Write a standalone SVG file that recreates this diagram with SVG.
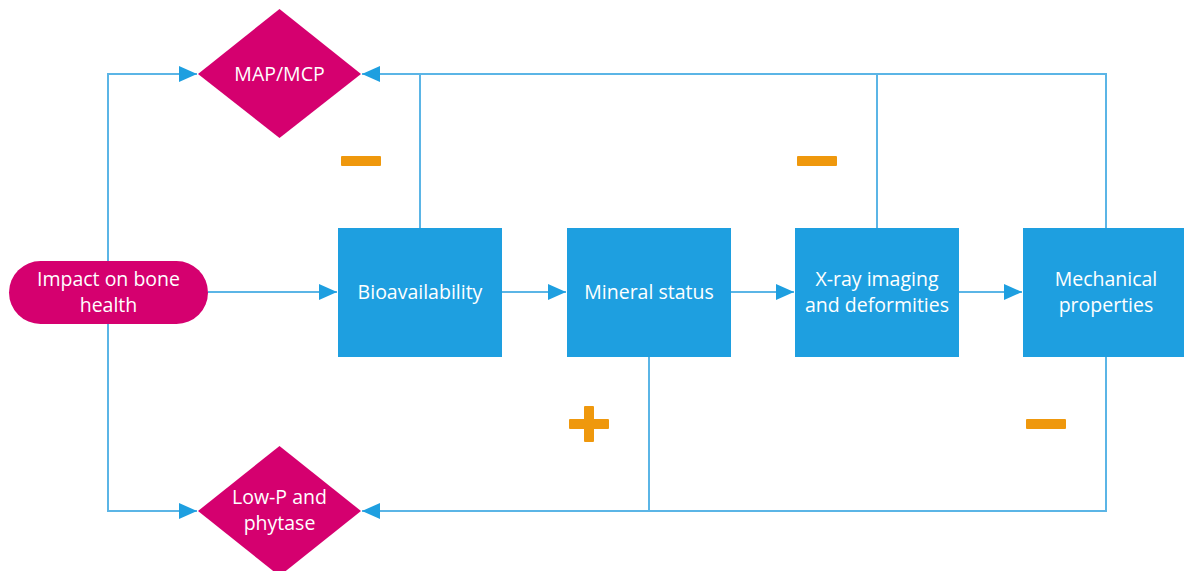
<svg xmlns="http://www.w3.org/2000/svg" width="1184" height="571" viewBox="0 0 1184 571">
<style>
.ln{fill:none;stroke:#5BB5E6;stroke-width:2}
.box{fill:#1E9FE0}
.mag{fill:#D5006F}
.t{font-family:"Open Sans","Noto Sans",sans-serif;font-size:19.5px;fill:#FFFFFF;text-anchor:middle}
.sign{fill:#EF980D}
</style>
<defs>
<marker id="ah" markerUnits="userSpaceOnUse" markerWidth="18" markerHeight="18" viewBox="0 0 18 18" refX="18" refY="9" orient="auto">
<path d="M0,1 L18,9 L0,17 Z" fill="#1E9FE0"/>
</marker>
</defs>
<rect width="1184" height="571" fill="#FFFFFF"/>
<g id="connectors">
<path class="ln" d="M108,262 V74 H197" marker-end="url(#ah)"/>
<path class="ln" d="M108,324 V511 H197" marker-end="url(#ah)"/>
<path class="ln" d="M1106,228 V74 H362" marker-end="url(#ah)"/>
<path class="ln" d="M420,228 V74"/>
<path class="ln" d="M877,228 V74"/>
<path class="ln" d="M1106,357 V511 H362" marker-end="url(#ah)"/>
<path class="ln" d="M649,357 V511"/>
<path class="ln" d="M208,292 H337" marker-end="url(#ah)"/>
<path class="ln" d="M502,292 H566" marker-end="url(#ah)"/>
<path class="ln" d="M731,292 H794" marker-end="url(#ah)"/>
<path class="ln" d="M959,292 H1022" marker-end="url(#ah)"/>
</g>
<g id="signs">
<rect class="sign" x="341" y="156" width="40" height="10" rx="1"/>
<rect class="sign" x="797" y="156" width="40" height="10" rx="1"/>
<rect class="sign" x="1026" y="419" width="40" height="10" rx="1"/>
<rect class="sign" x="569" y="419" width="40" height="10" rx="1"/>
<rect class="sign" x="584" y="406" width="10" height="36" rx="1"/>
</g>
<g id="impact">
<rect class="mag" x="9" y="261" width="199" height="63" rx="31.5"/>
<text class="t" x="108.5" y="286">Impact on bone</text>
<text class="t" x="108.5" y="312">health</text>
</g>
<g id="map-mcp">
<polygon class="mag" points="279.5,9 361,74 279.5,138 198,74"/>
<text class="t" x="279.5" y="81">MAP/MCP</text>
</g>
<g id="low-p">
<polygon class="mag" points="279.5,446 361,511 279.5,576 198,511"/>
<text class="t" x="279.5" y="504">Low-P and</text>
<text class="t" x="279.5" y="530">phytase</text>
</g>
<g id="bioavailability">
<rect class="box" x="338" y="228" width="164" height="129"/>
<text class="t" x="420" y="299">Bioavailability</text>
</g>
<g id="mineral">
<rect class="box" x="567" y="228" width="164" height="129"/>
<text class="t" x="649" y="299">Mineral status</text>
</g>
<g id="xray">
<rect class="box" x="795" y="228" width="164" height="129"/>
<text class="t" x="877" y="286">X-ray imaging</text>
<text class="t" x="877" y="312">and deformities</text>
</g>
<g id="mechanical">
<rect class="box" x="1023" y="228" width="164" height="129"/>
<text class="t" x="1106" y="286">Mechanical</text>
<text class="t" x="1106" y="312">properties</text>
</g>
</svg>
